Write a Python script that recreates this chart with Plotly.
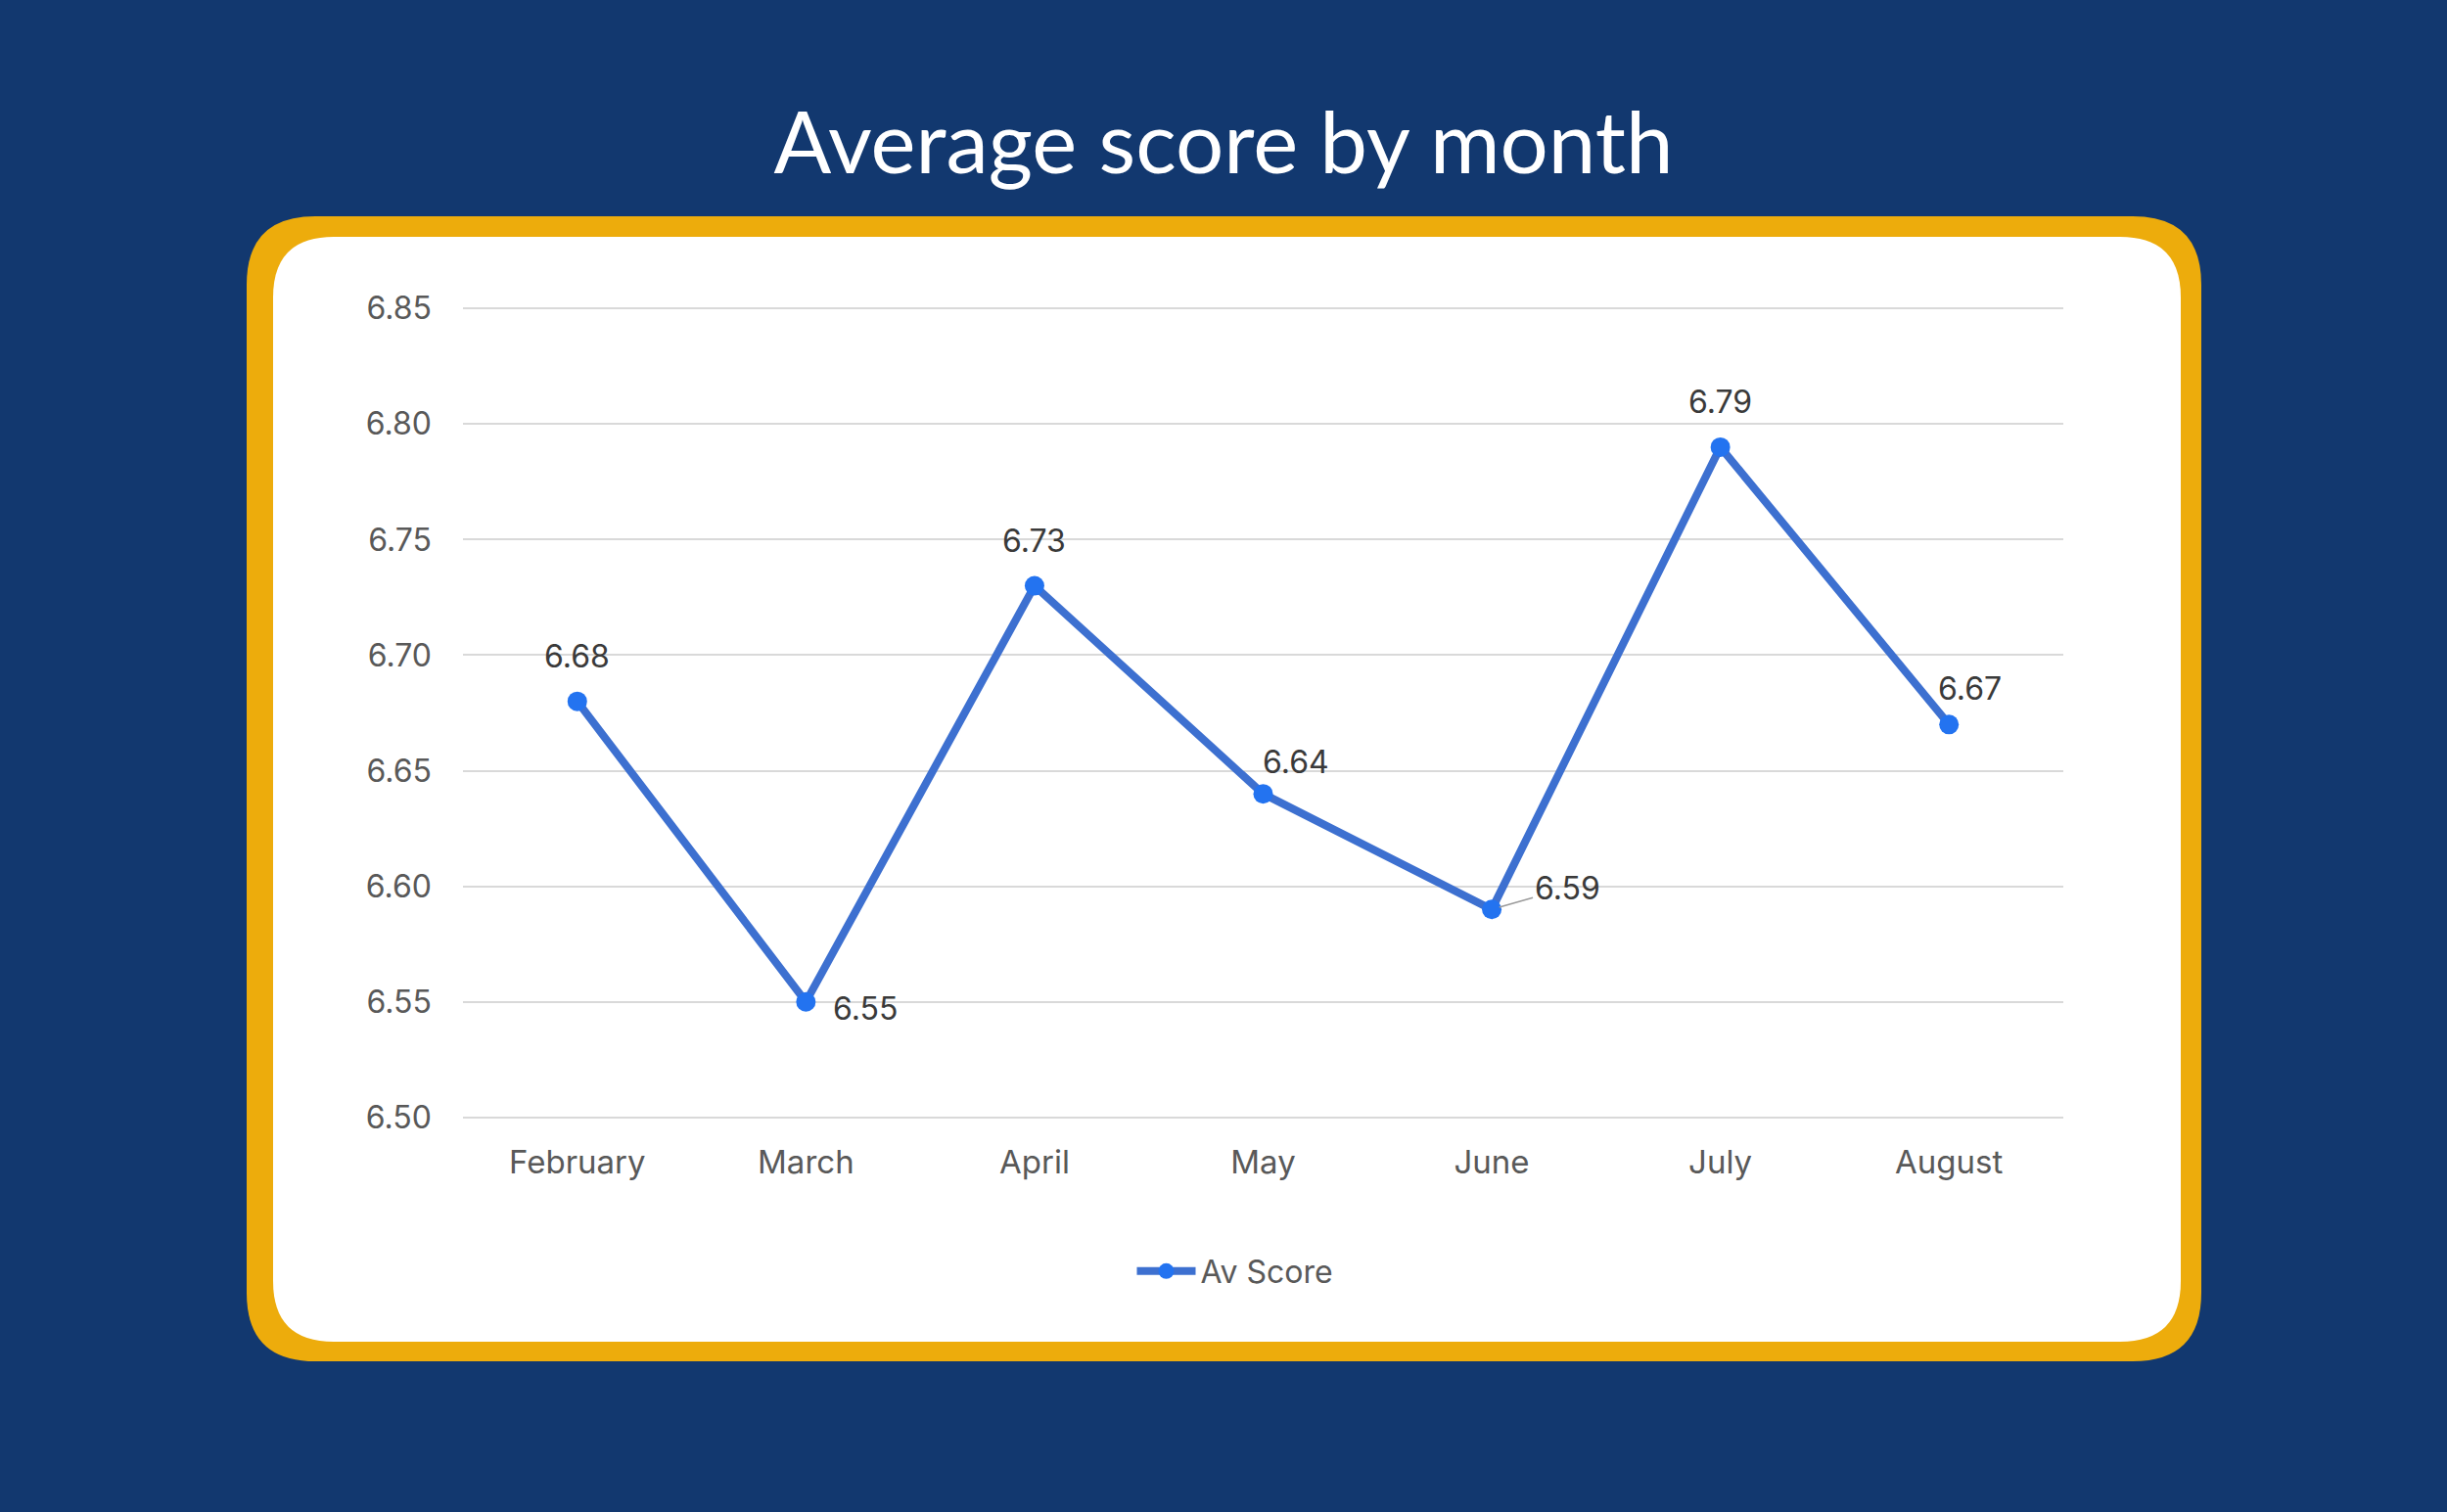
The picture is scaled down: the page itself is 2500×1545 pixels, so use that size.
import plotly.graph_objects as go

months = ["February", "March", "April", "May", "June", "July", "August"]
av_score = [6.68, 6.55, 6.73, 6.64, 6.59, 6.79, 6.67]
y_ticks = [6.50, 6.55, 6.60, 6.65, 6.70, 6.75, 6.80, 6.85]
y_tick_text = ["6.50", "6.55", "6.60", "6.65", "6.70", "6.75", "6.80", "6.85"]

W, H = 2500, 1545
L, R, T, B = 473, 392, 314, 402
PW, PH = W - L - R, H - T - B

NAVY = "#12386f"
GOLD = "#edac0c"

def px_x(px):
    return (px - L) / PW

def px_y(py):
    return (H - B - py) / PH

def rounded_rect(x0, y0, x1, y1, r):
    def P(x, y):
        return f"{px_x(x):.5f},{px_y(y):.5f}"
    return (
        f"M {P(x0 + r, y0)} L {P(x1 - r, y0)} Q {P(x1, y0)} {P(x1, y0 + r)} "
        f"L {P(x1, y1 - r)} Q {P(x1, y1)} {P(x1 - r, y1)} "
        f"L {P(x0 + r, y1)} Q {P(x0, y1)} {P(x0, y1 - r)} "
        f"L {P(x0, y0 + r)} Q {P(x0, y0)} {P(x0 + r, y0)} Z"
    )

fig = go.Figure()
fig.add_trace(go.Scatter(
    x=months, y=av_score, mode="lines+markers", name="Av Score",
    line=dict(color="#3d70d0", width=8),
    marker=dict(color="#2373f0", size=20),
    cliponaxis=False,
))

shapes = [
    dict(type="path", xref="paper", yref="paper", layer="below",
         path=rounded_rect(252, 221, 2249, 1391, 70), fillcolor=GOLD, line=dict(width=0)),
    dict(type="path", xref="paper", yref="paper", layer="below",
         path=rounded_rect(279, 242, 2228, 1371, 62), fillcolor="#ffffff", line=dict(width=0)),
]

label_pos = [
    dict(xshift=0, yshift=46),
    dict(xshift=61, yshift=-7),
    dict(xshift=0, yshift=46),
    dict(xshift=33, yshift=33),
    None,
    dict(xshift=0, yshift=46),
    dict(xshift=21, yshift=37),
]
LABEL_FONT = dict(family="Inter", size=32, color="#3a3a3a")
annotations = []
for m, v, pos in zip(months, av_score, label_pos):
    if pos is None:
        annotations.append(dict(
            x=m, y=v, text=f"{v:.2f}", showarrow=True, arrowhead=0, arrowwidth=1.5,
            arrowcolor="#9a9a9a", ax=77, ay=-22, xanchor="center", yanchor="middle",
            font=LABEL_FONT, standoff=8,
        ))
    else:
        annotations.append(dict(
            x=m, y=v, text=f"{v:.2f}", showarrow=False, xanchor="center", yanchor="middle",
            font=LABEL_FONT, **pos,
        ))

fig.update_layout(
    width=W, height=H,
    margin=dict(l=L, r=R, t=T, b=B, pad=0),
    paper_bgcolor=NAVY, plot_bgcolor="rgba(0,0,0,0)",
    shapes=shapes, annotations=annotations,
    title=dict(text="Average score by month", x=0.5, xanchor="center",
               y=1 - 147 / H, yanchor="middle", yref="container",
               font=dict(family="Lato", size=87, color="#ffffff")),
    xaxis=dict(range=[-0.5, 6.5], showgrid=False, zeroline=False, showline=False,
               ticks="", tickfont=dict(family="Inter", size=33, color="#595959"),
               ticklabelstandoff=22),
    yaxis=dict(range=[6.4995, 6.8505], tickvals=y_ticks, ticktext=y_tick_text,
               showgrid=True, gridcolor="#d9d9d9", gridwidth=2, zeroline=False,
               showline=False, ticks="",
               tickfont=dict(family="Inter", size=32, color="#595959"),
               ticklabelstandoff=31),
    showlegend=True,
    legend=dict(orientation="h", x=px_x(1262), xanchor="center", y=px_y(1299), yanchor="middle",
                bgcolor="rgba(0,0,0,0)", font=dict(family="Inter", size=32, color="#595959"),
                itemwidth=60),
)

fig.write_html("out.html", config={"displayModeBar": False},
               post_script="document.body.style.margin='0';document.body.style.padding='0';")
